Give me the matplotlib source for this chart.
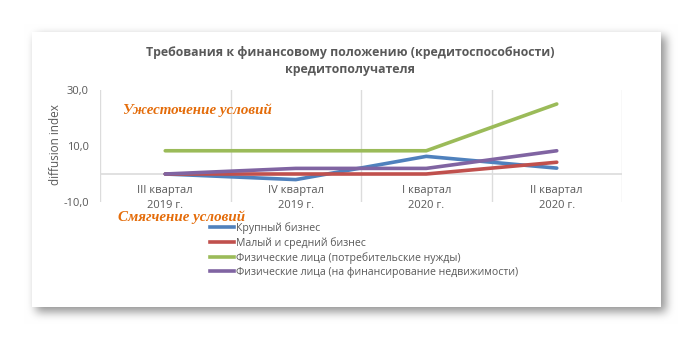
import numpy as np
import matplotlib
matplotlib.use("Agg")
import matplotlib.pyplot as plt
from matplotlib.lines import Line2D
import matplotlib.transforms as mtransforms

# ---- data ----
categories = ["III квартал\n2019 г.", "IV квартал\n2019 г.", "I квартал\n2020 г.", "II квартал\n2020 г."]
series_names = [
    "Крупный бизнес",
    "Малый и средний бизнес",
    "Физические лица (потребительские нужды)",
    "Физические лица (на финансирование недвижимости)",
]
large_business = [0.0, -2.0, 6.3, 2.1]
sme_business = [0.0, 0.0, 0.0, 4.2]
consumer_loans = [8.3, 8.3, 8.3, 25.0]
mortgage_loans = [0.0, 2.0, 2.0, 8.3]
yticks = [-10, 10, 30]
ytick_labels = ["-10,0", "10,0", "30,0"]
title = "Требования к финансовому положению (кредитоспособности)\nкредитополучателя"
tight_label = "Ужесточение условий"
ease_label = "Смягчение условий"

colors = ["#4F81BD", "#C0504D", "#9BBB59", "#8064A2"]
FONT = ["Open Sans", "DejaVu Sans"]
plt.rcParams["font.family"] = FONT
GRAY = "#595959"

W, H = 693, 343
fig = plt.figure(figsize=(W / 100, H / 100), dpi=100)

# ---- card with soft shadow (background decoration) ----
mask = np.zeros((H, W))
mask[36:312, 36:666] = 1.0
k = np.ones(9) / 9.0
blur = mask.copy()
for _ in range(3):
    blur = np.apply_along_axis(lambda r: np.convolve(r, k, mode="same"), 1, blur)
    blur = np.apply_along_axis(lambda c: np.convolve(c, k, mode="same"), 0, blur)
val = 1.0 - 0.42 * blur
val[32:307, 32:661] = 1.0
img = np.dstack([val, val, val])
fig.figimage(img, 0, 0, origin="upper", zorder=-10)

# ---- axes ----
left, right, top, bottom = 100, 622, 90, 202
ax = fig.add_axes([left / W, 1 - bottom / H, (right - left) / W, (bottom - top) / H])
ax.set_facecolor("none")
x = np.arange(len(categories))
for vals, c, name in zip([large_business, sme_business, consumer_loans, mortgage_loans], colors, series_names):
    ax.plot(x, vals, color=c, lw=2.6, solid_capstyle="round", label=name, zorder=3)

ax.set_xlim(-0.5, len(categories) - 0.5)
ax.set_ylim(-10, 30)
for b in np.arange(-0.5, len(categories), 1.0):
    ax.axvline(b, color="#DCDCDC", lw=1.0, zorder=1)
ax.axhline(0, color="#DCDCDC", lw=1.2, zorder=1)
for s in ax.spines.values():
    s.set_visible(False)
ax.set_xticks([])
ax.set_yticks(yticks)
ax.set_yticklabels(ytick_labels, color=GRAY, fontsize=8)
ax.tick_params(axis="y", length=0, pad=8)

offset = mtransforms.ScaledTranslation(0, -8 / 72, fig.dpi_scale_trans)
for i, lab in enumerate(categories):
    ax.text(i, 0, lab, ha="center", va="top", fontsize=8, color=GRAY,
            linespacing=1.45, transform=ax.transData + offset)

ax.set_ylabel("diffusion index", color=GRAY, fontsize=8.5)
ax.yaxis.set_label_coords((62 - left) / (right - left), (bottom - 145) / (bottom - top))

fig.text(350 / W, 1 - 61 / H, title, ha="center", va="center", fontsize=8.9,
         fontweight="bold", color=GRAY, linespacing=1.45)

fig.text(123 / W, 1 - 110 / H, tight_label, ha="left", va="center",
         family=["Liberation Serif"], style="italic", weight="bold",
         fontsize=10.8, color="#E46C0A")
fig.text(118 / W, 1 - 217 / H, ease_label, ha="left", va="center",
         family=["Liberation Serif"], style="italic", weight="bold",
         fontsize=10.8, color="#E46C0A")

handles = [Line2D([0], [0], color=c, lw=2.6) for c in colors]
leg = fig.legend(handles, series_names, loc="upper left",
                 bbox_to_anchor=(210 / W, 1 - 222 / H), frameon=False,
                 fontsize=7.6, handlelength=2.3, handletextpad=0.15,
                 labelspacing=0.3, borderaxespad=0, borderpad=0)
for t in leg.get_texts():
    t.set_color(GRAY)

fig.savefig("out.png", dpi=100)
